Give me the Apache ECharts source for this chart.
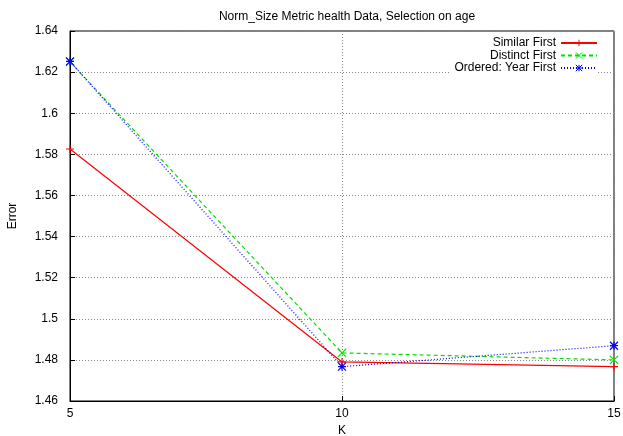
<!DOCTYPE html>
<html>
<head>
<meta charset="UTF-8"/>
<script src="https://cdn.jsdelivr.net/npm/echarts@6/dist/echarts.min.js"></script>
<style>
  html, body { margin: 0; padding: 0; background: #fff; }
  #chart { width: 623px; height: 436px; }
</style>
</head>
<body>
<div id="chart"></div>
<script>
// data
const kValues = [5, 10, 15];
const similarFirst = [1.5826, 1.479, 1.4767];
const distinctFirst = [1.625, 1.4834, 1.480];
const orderedYearFirst = [1.6252, 1.4767, 1.4869];
const seriesNames = ['Similar First', 'Distinct First', 'Ordered: Year First'];

const font = 'Liberation Sans, Arial, sans-serif';
const plusSym = 'path://M0,5L10,5M5,0L5,10';
const crossSym = 'path://M0,0L10,10M10,0L0,10';
const starSym = 'path://M0,5L10,5M5,0L5,10M0,0L10,10M10,0L0,10';

function pts(vals) { return kValues.map((k, i) => [k, vals[i]]); }

function mkSeries(name, vals, color, dash, sym) {
  return {
    name: name,
    type: 'line',
    data: pts(vals),
    symbol: sym,
    symbolSize: 8,
    showAllSymbol: true,
    lineStyle: { color: color, width: 1.2, type: dash },
    itemStyle: { color: 'none', borderColor: color, borderWidth: 1.2 },
    emphasis: { disabled: true },
    animation: false
  };
}

const chart = echarts.init(document.getElementById('chart'));
chart.setOption({
  backgroundColor: '#fff',
  title: {
    text: 'Norm_Size Metric health Data, Selection on age',
    left: 342, top: 6, textAlign: 'center',
    textStyle: { fontFamily: font, fontSize: 12, fontWeight: 'normal', color: '#000' }
  },
  legend: {
    orient: 'vertical',
    right: 25, top: 37,
    align: 'right',
    itemWidth: 36, itemHeight: 8,
    itemGap: 0.5,
    backgroundColor: '#fff',
    padding: [0, 0, 0, 4],
    itemStyle: { color: 'none', borderWidth: 1 },
    textStyle: { fontFamily: font, fontSize: 12, lineHeight: 12, color: '#000' },
    data: seriesNames
  },
  grid: {
    left: 70, right: 9, top: 31, bottom: 35,
    containLabel: false, outerBoundsMode: 'none',
    show: true, borderColor: '#000', borderWidth: 1
  },
  xAxis: {
    type: 'value', min: 5, max: 15, interval: 5,
    name: 'K', nameLocation: 'middle', nameGap: 20,
    nameTextStyle: { fontFamily: font, fontSize: 12, color: '#000' },
    axisLine: { lineStyle: { color: '#000' } },
    axisTick: { inside: true, length: 5, lineStyle: { color: '#000' } },
    axisLabel: { fontFamily: font, fontSize: 12, color: '#000', margin: 7 },
    splitLine: { show: true, lineStyle: { color: '#888', type: [1, 2], width: 1 } }
  },
  yAxis: {
    type: 'value', min: 1.46, max: 1.64, interval: 0.02,
    name: 'Error', nameLocation: 'middle', nameGap: 51, nameRotate: 90,
    nameTextStyle: { fontFamily: font, fontSize: 12, color: '#000' },
    axisLine: { lineStyle: { color: '#000' } },
    axisTick: { inside: true, length: 5, lineStyle: { color: '#000' } },
    axisLabel: { fontFamily: font, fontSize: 12, color: '#000', margin: 12 },
    splitLine: { show: true, lineStyle: { color: '#888', type: [1, 2], width: 1 } }
  },
  series: [
    mkSeries(seriesNames[0], similarFirst, '#ff0000', 'solid', plusSym),
    mkSeries(seriesNames[1], distinctFirst, '#00e000', [4, 3], crossSym),
    mkSeries(seriesNames[2], orderedYearFirst, '#0000ff', [1, 2], starSym)
  ]
});
</script>
</body>
</html>
